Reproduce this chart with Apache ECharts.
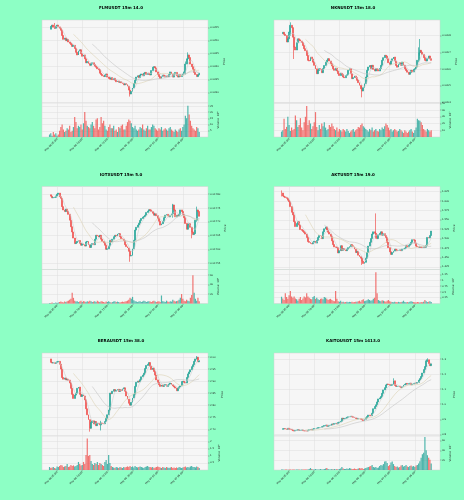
<!DOCTYPE html>
<html>
<head>
<meta charset="utf-8">
<script src="https://cdn.jsdelivr.net/npm/echarts@6/dist/echarts.min.js"></script>
<style>
  html, body { margin: 0; padding: 0; background: #8dffc5; }
  #main { width: 464px; height: 500px; }
</style>
</head>
<body>
<div id="main"></div>
<script>
// x axis: 120 candles of 15m, labelled every 20 candles
const tickIndex = [6, 26, 46, 66, 86, 106]
const dateTicks = ['May 06 05:00', 'May 06 10:00', 'May 06 15:00', 'May 06 20:00', 'May 07 01:00', 'May 07 06:00']
const maPeriods = [5, 20, 35]

const titles = ['FLMUSDT 15m 14.0', 'NKNUSDT 15m 18.0', 'IOTXUSDT 15m 5.0', 'AKTUSDT 15m 19.0', 'BERAUSDT 15m 38.0', 'KAITOUSDT 15m 1413.0']

const flmClose = [
  0.03544, 0.03555, 0.03560, 0.03552, 0.03548, 0.03556, 0.03560, 0.03553, 0.03548, 0.03540,
  0.03520, 0.03505, 0.03510, 0.03500, 0.03505, 0.03495, 0.03490, 0.03485, 0.03478, 0.03482,
  0.03470, 0.03455, 0.03445, 0.03460, 0.03465, 0.03450, 0.03440, 0.03445, 0.03430, 0.03415,
  0.03420, 0.03412, 0.03405, 0.03410, 0.03415, 0.03408, 0.03402, 0.03398, 0.03392, 0.03388,
  0.03375, 0.03370, 0.03365, 0.03362, 0.03368, 0.03372, 0.03360, 0.03355, 0.03352, 0.03358,
  0.03350, 0.03355, 0.03348, 0.03342, 0.03345, 0.03340, 0.03342, 0.03338, 0.03335, 0.03330,
  0.03335, 0.03332, 0.03325, 0.03310, 0.03295, 0.03305, 0.03318, 0.03335, 0.03348, 0.03360,
  0.03365, 0.03358, 0.03368, 0.03372, 0.03365, 0.03375, 0.03378, 0.03370, 0.03375, 0.03372,
  0.03368, 0.03385, 0.03398, 0.03400, 0.03395, 0.03380, 0.03370, 0.03362, 0.03355, 0.03362,
  0.03368, 0.03365, 0.03360, 0.03365, 0.03362, 0.03370, 0.03380, 0.03372, 0.03360, 0.03372,
  0.03378, 0.03365, 0.03360, 0.03370, 0.03362, 0.03368, 0.03372, 0.03380, 0.03410, 0.03430,
  0.03445, 0.03435, 0.03410, 0.03400, 0.03390, 0.03378, 0.03370, 0.03362, 0.03368, 0.03375
]
const flmVol = [
  2, 3, 1, 4, 2, 3, 1, 2, 5, 8,
  10, 6, 4, 5, 7, 6, 9, 4, 5, 8,
  16, 12, 7, 9, 8, 10, 6, 11, 20, 13,
  9, 8, 7, 10, 12, 9, 7, 14, 15, 6,
  8, 16, 11, 13, 9, 6, 5, 8, 10, 7,
  7, 9, 5, 6, 4, 8, 7, 9, 10, 6,
  6, 9, 12, 14, 13, 11, 8, 7, 9, 6,
  5, 6, 8, 7, 10, 6, 5, 7, 9, 6,
  6, 8, 10, 9, 7, 6, 5, 7, 6, 8,
  5, 6, 7, 6, 5, 7, 8, 6, 5, 4,
  6, 5, 4, 6, 7, 5, 8, 10, 17, 15,
  25, 18, 13, 9, 7, 6, 5, 8, 7, 4
]
const flmWicks = [[4, 0.03568, 0.03545], [64, 0.03312, 0.03285], [108, 0.03420, 0.03370], [110, 0.03455, 0.03425]]
const flmPriceTicks = [0.0330, 0.0335, 0.0340, 0.0345, 0.0350, 0.0355]
const flmVolTicks = [5, 10, 15, 20, 25]

const nknClose = [
  0.030812, 0.030820, 0.030808, 0.030801, 0.030762, 0.030781, 0.030822, 0.030862, 0.030848, 0.030791,
  0.030732, 0.030714, 0.030758, 0.030781, 0.030775, 0.030768, 0.030759, 0.030741, 0.030722, 0.030710,
  0.030681, 0.030652, 0.030648, 0.030672, 0.030660, 0.030641, 0.030622, 0.030601, 0.030572, 0.030591,
  0.030603, 0.030598, 0.030578, 0.030602, 0.030621, 0.030641, 0.030652, 0.030662, 0.030648, 0.030632,
  0.030618, 0.030601, 0.030592, 0.030604, 0.030588, 0.030572, 0.030561, 0.030574, 0.030568, 0.030552,
  0.030548, 0.030561, 0.030565, 0.030592, 0.030602, 0.030571, 0.030542, 0.030548, 0.030558, 0.030548,
  0.030532, 0.030518, 0.030502, 0.030482, 0.030468, 0.030488, 0.030512, 0.030552, 0.030592, 0.030612,
  0.030621, 0.030602, 0.030622, 0.030598, 0.030588, 0.030602, 0.030598, 0.030588, 0.030603, 0.030622,
  0.030652, 0.030668, 0.030682, 0.030678, 0.030662, 0.030638, 0.030628, 0.030648, 0.030661, 0.030672,
  0.030648, 0.030621, 0.030611, 0.030628, 0.030638, 0.030622, 0.030642, 0.030622, 0.030601, 0.030591,
  0.030581, 0.030568, 0.030578, 0.030592, 0.030582, 0.030598, 0.030602, 0.030612, 0.030652, 0.030698,
  0.030712, 0.030701, 0.030688, 0.030668, 0.030652, 0.030648, 0.030662, 0.030678, 0.030662, 0.030652
]
const nknVol = [
  8, 10, 27, 12, 15, 30, 18, 9, 14, 10,
  12, 32, 25, 15, 18, 28, 14, 10, 22, 30,
  46, 18, 25, 20, 12, 16, 22, 37, 15, 10,
  18, 12, 20, 16, 22, 14, 10, 12, 18, 15,
  20, 16, 12, 10, 14, 8, 12, 10, 8, 12,
  10, 8, 12, 9, 6, 8, 10, 12, 8, 10,
  12, 15, 14, 18, 20, 16, 14, 12, 10, 8,
  12, 10, 14, 8, 10, 12, 9, 8, 12, 10,
  14, 12, 16, 20, 18, 14, 10, 12, 8, 10,
  12, 10, 8, 9, 12, 10, 8, 6, 10, 8,
  6, 8, 10, 12, 8, 6, 10, 14, 27, 25,
  24, 22, 18, 12, 10, 8, 12, 10, 8, 10
]
const nknWicks = [[7, 0.03088, 0.03080], [10, 0.03078, 0.03066], [64, 0.03050, 0.03043], [109, 0.03073, 0.03064], [110, 0.03078, 0.03068]]
const nknPriceTicks = [0.0304, 0.0305, 0.0306, 0.0307, 0.0308]
const nknVolTicks = [10, 20, 30, 40, 50]

const iotxClose = [
  0.017798, 0.017793, 0.017787, 0.017788, 0.017789, 0.017794, 0.017800, 0.017804, 0.017791, 0.017785,
  0.017755, 0.017743, 0.017737, 0.017746, 0.017739, 0.017727, 0.017706, 0.017682, 0.017663, 0.017641,
  0.017621, 0.017624, 0.017629, 0.017632, 0.017622, 0.017615, 0.017620, 0.017617, 0.017612, 0.017627,
  0.017629, 0.017617, 0.017607, 0.017617, 0.017621, 0.017617, 0.017637, 0.017651, 0.017649, 0.017645,
  0.017651, 0.017637, 0.017629, 0.017624, 0.017615, 0.017600, 0.017602, 0.017612, 0.017632, 0.017627,
  0.017637, 0.017646, 0.017651, 0.017649, 0.017656, 0.017657, 0.017646, 0.017639, 0.017637, 0.017632,
  0.017617, 0.017610, 0.017605, 0.017593, 0.017576, 0.017578, 0.017602, 0.017633, 0.017670, 0.017680,
  0.017688, 0.017695, 0.017705, 0.017712, 0.017717, 0.017719, 0.017724, 0.017734, 0.017739, 0.017744,
  0.017743, 0.017737, 0.017731, 0.017724, 0.017729, 0.017722, 0.017712, 0.017702, 0.017688, 0.017693,
  0.017702, 0.017715, 0.017724, 0.017727, 0.017722, 0.017718, 0.017724, 0.017729, 0.017761, 0.017743,
  0.017718, 0.017724, 0.017722, 0.017727, 0.017743, 0.017737, 0.017727, 0.017715, 0.017694, 0.017673,
  0.017690, 0.017693, 0.017680, 0.017663, 0.017654, 0.017657, 0.017706, 0.017743, 0.017737, 0.017720
]
const iotxVol = [
  1, 1, 2, 1, 1, 2, 1, 2, 3, 4,
  3, 2, 4, 3, 5, 6, 8, 10, 23, 12,
  6, 4, 5, 3, 4, 6, 3, 5, 4, 3,
  5, 4, 6, 5, 3, 4, 5, 3, 6, 4,
  3, 5, 4, 3, 2, 4, 3, 5, 3, 2,
  3, 4, 5, 3, 4, 3, 2, 3, 4, 3,
  4, 5, 6, 8, 12, 10, 14, 7, 5, 4,
  3, 4, 5, 3, 4, 6, 5, 3, 4, 5,
  4, 3, 5, 6, 4, 3, 4, 5, 3, 17,
  5, 4, 3, 6, 4, 3, 5, 4, 8, 6,
  4, 5, 6, 8, 12, 20, 10, 6, 5, 8,
  6, 5, 12, 18, 60, 23, 10, 6, 12, 5
]
const iotxWicks = [[64, 0.017580, 0.017555], [98, 0.017765, 0.017715], [113, 0.017670, 0.017640], [117, 0.017755, 0.017700]]
const iotxPriceTicks = [0.01755, 0.01760, 0.01765, 0.01770, 0.01775, 0.01780]
const iotxVolTicks = [20, 40, 60]

const aktClose = [
  1.621, 1.613, 1.611, 1.609, 1.607, 1.602, 1.598, 1.585, 1.570, 1.563,
  1.545, 1.532, 1.540, 1.545, 1.536, 1.524, 1.522, 1.519, 1.516, 1.512,
  1.503, 1.492, 1.490, 1.487, 1.486, 1.490, 1.493, 1.488, 1.495, 1.503,
  1.508, 1.507, 1.500, 1.518, 1.526, 1.531, 1.523, 1.517, 1.512, 1.506,
  1.494, 1.484, 1.478, 1.477, 1.476, 1.462, 1.468, 1.481, 1.469, 1.473,
  1.470, 1.468, 1.472, 1.476, 1.479, 1.484, 1.481, 1.478, 1.472, 1.463,
  1.466, 1.456, 1.452, 1.448, 1.440, 1.434, 1.437, 1.448, 1.463, 1.480,
  1.490, 1.500, 1.512, 1.518, 1.514, 1.505, 1.500, 1.510, 1.514, 1.518,
  1.509, 1.513, 1.508, 1.503, 1.490, 1.476, 1.465, 1.458, 1.463, 1.467,
  1.472, 1.470, 1.468, 1.469, 1.470, 1.468, 1.472, 1.473, 1.475, 1.481,
  1.478, 1.482, 1.485, 1.490, 1.497, 1.496, 1.488, 1.480, 1.478, 1.477,
  1.478, 1.477, 1.476, 1.478, 1.477, 1.482, 1.503, 1.502, 1.508, 1.520
]
const aktVol = [
  0.29, 0.22, 0.15, 0.44, 0.28, 0.20, 0.35, 0.54, 0.30, 0.25,
  0.30, 0.22, 0.18, 0.12, 0.20, 0.28, 0.15, 0.22, 0.30, 0.26,
  0.44, 0.30, 0.25, 0.20, 0.18, 0.28, 0.32, 0.20, 0.25, 0.18,
  0.15, 0.20, 0.22, 0.18, 0.28, 0.25, 0.20, 0.15, 0.18, 0.20,
  0.15, 0.12, 0.10, 0.54, 0.20, 0.10, 0.08, 0.12, 0.06, 0.08,
  0.05, 0.06, 0.08, 0.05, 0.07, 0.06, 0.08, 0.05, 0.06, 0.08,
  0.07, 0.10, 0.12, 0.08, 0.15, 0.18, 0.10, 0.12, 0.14, 0.18,
  0.15, 0.12, 0.14, 0.20, 0.25, 1.34, 0.44, 0.15, 0.12, 0.10,
  0.14, 0.12, 0.10, 0.08, 0.12, 0.15, 0.10, 0.08, 0.06, 0.05,
  0.08, 0.06, 0.05, 0.07, 0.05, 0.06, 0.08, 0.12, 0.06, 0.05,
  0.06, 0.05, 0.08, 0.10, 0.07, 0.06, 0.05, 0.04, 0.06, 0.05,
  0.04, 0.06, 0.05, 0.08, 0.15, 0.10, 0.06, 0.08, 0.10, 0.06
]
const aktWicks = [[0, 1.628, 1.612], [64, 1.445, 1.430], [75, 1.567, 1.500]]
const aktPriceTicks = [1.425, 1.450, 1.475, 1.500, 1.525, 1.550, 1.575, 1.600, 1.625]
const aktVolTicks = [0.25, 0.50, 0.75, 1.00, 1.25]

const beraClose = [
  2.992, 2.978, 2.975, 2.976, 2.974, 2.977, 2.980, 2.982, 2.970, 2.950,
  2.915, 2.908, 2.913, 2.905, 2.908, 2.904, 2.892, 2.870, 2.845, 2.828,
  2.842, 2.850, 2.870, 2.875, 2.845, 2.836, 2.843, 2.838, 2.822, 2.785,
  2.760, 2.740, 2.704, 2.728, 2.735, 2.722, 2.732, 2.715, 2.725, 2.722,
  2.718, 2.726, 2.724, 2.723, 2.732, 2.745, 2.760, 2.780, 2.850, 2.848,
  2.858, 2.865, 2.858, 2.862, 2.866, 2.857, 2.864, 2.860, 2.868, 2.872,
  2.858, 2.838, 2.825, 2.808, 2.800, 2.812, 2.830, 2.845, 2.878, 2.895,
  2.900, 2.897, 2.906, 2.918, 2.925, 2.933, 2.952, 2.965, 2.970, 2.977,
  2.962, 2.948, 2.954, 2.940, 2.925, 2.905, 2.895, 2.885, 2.878, 2.884,
  2.878, 2.883, 2.886, 2.878, 2.884, 2.888, 2.892, 2.885, 2.880, 2.876,
  2.871, 2.860, 2.870, 2.876, 2.880, 2.898, 2.899, 2.895, 2.892, 2.915,
  2.930, 2.938, 2.947, 2.960, 2.968, 2.982, 2.992, 2.999, 2.980, 2.985
]
const beraVol = [
  0.21, 0.14, 0.18, 0.21, 0.14, 0.10, 0.25, 0.21, 0.28, 0.35,
  0.32, 0.21, 0.25, 0.28, 0.42, 0.21, 0.25, 0.35, 0.28, 0.32,
  0.25, 0.28, 0.35, 0.56, 0.42, 0.32, 0.35, 0.56, 0.42, 1.05,
  2.20, 0.98, 1.05, 0.63, 0.42, 0.35, 0.49, 0.42, 0.56, 0.35,
  0.49, 0.42, 0.35, 0.28, 0.56, 0.70, 0.42, 1.05, 0.49, 0.28,
  0.21, 0.18, 0.14, 0.21, 0.18, 0.14, 0.21, 0.18, 0.14, 0.21,
  0.18, 0.21, 0.25, 0.21, 0.28, 0.21, 0.25, 0.18, 0.28, 0.21,
  0.18, 0.21, 0.25, 0.21, 0.18, 0.14, 0.21, 0.25, 0.28, 0.21,
  0.21, 0.18, 0.21, 0.14, 0.18, 0.21, 0.25, 0.21, 0.18, 0.14,
  0.21, 0.18, 0.14, 0.21, 0.18, 0.14, 0.18, 0.21, 0.14, 0.18,
  0.14, 0.18, 0.14, 0.21, 0.18, 0.14, 0.18, 0.21, 0.25, 0.18,
  0.21, 0.18, 0.25, 0.28, 0.21, 0.21, 0.18, 0.25, 0.21, 0.14
]
const beraWicks = [[32, 2.735, 2.690], [41, 2.735, 2.695], [117, 3.004, 2.990]]
const beraPriceTicks = [2.70, 2.75, 2.80, 2.85, 2.90, 2.95, 3.00]
const beraVolTicks = [0.5, 1.0, 1.5, 2.0]

const kaitoClose = [
  0.8333, 0.8378, 0.8378, 0.8356, 0.8333, 0.8400, 0.8356, 0.8333, 0.8289, 0.8244,
  0.8222, 0.8267, 0.8289, 0.8300, 0.8260, 0.8270, 0.8290, 0.8250, 0.8240, 0.8225,
  0.8222, 0.8280, 0.8300, 0.8340, 0.8290, 0.8350, 0.8380, 0.8390, 0.8410, 0.8440,
  0.8450, 0.8470, 0.8510, 0.8540, 0.8580, 0.8620, 0.8530, 0.8550, 0.8600, 0.8620,
  0.8690, 0.8650, 0.8720, 0.8730, 0.8690, 0.8780, 0.8820, 0.8870, 0.9070, 0.9020,
  0.9060, 0.9080, 0.9130, 0.9160, 0.9180, 0.9200, 0.9170, 0.9130, 0.9090, 0.9060,
  0.9020, 0.9050, 0.9040, 0.9000, 0.8960, 0.8920, 0.9000, 0.9100, 0.9180, 0.9280,
  0.9250, 0.9240, 0.9400, 0.9700, 0.9850, 0.9960, 1.0150, 1.0350, 1.0420, 1.0510,
  1.0720, 1.0950, 1.1100, 1.1280, 1.1340, 1.1310, 1.1240, 1.1260, 1.1320, 1.1550,
  1.1250, 1.1180, 1.1180, 1.1200, 1.1150, 1.1120, 1.1160, 1.1280, 1.1320, 1.1380,
  1.1330, 1.1370, 1.1400, 1.1290, 1.1340, 1.1380, 1.1400, 1.1390, 1.1440, 1.1600,
  1.1700, 1.1840, 1.2070, 1.2300, 1.2500, 1.2850, 1.2950, 1.2700, 1.2560, 1.2680
]
const kaitoVol = [
  1, 1, 0.5, 1, 1, 0.5, 1, 1, 0.5, 1,
  1, 0.5, 1, 1, 1, 0.5, 1, 1, 1, 1,
  1, 1, 2, 4, 2, 1, 1, 2, 1, 1,
  1, 2, 1, 1, 2, 3, 4, 2, 1, 1,
  2, 1, 2, 1, 2, 1, 2, 3, 6, 3,
  2, 2, 3, 2, 4, 3, 2, 2, 3, 2,
  2, 3, 4, 3, 4, 2, 3, 4, 5, 6,
  7, 8, 10, 6, 5, 6, 4, 5, 8, 10,
  9, 12, 17, 18, 14, 8, 10, 15, 17, 12,
  8, 6, 7, 5, 6, 9, 10, 7, 8, 10,
  7, 6, 8, 9, 7, 8, 6, 9, 10, 13,
  18, 25, 32, 35, 67, 40, 30, 25, 21, 13
]
const kaitoWicks = [[89, 1.172, 1.128], [115, 1.290, 1.245], [116, 1.305, 1.280]]
const kaitoPriceTicks = [0.8, 0.9, 1.0, 1.1, 1.2, 1.3]
const kaitoVolTicks = [20, 40, 60]

// panel table built from the arrays above
const panels = [
  { title: titles[0], close: flmClose, vol: flmVol, wicks: flmWicks, pTicks: flmPriceTicks, pMin: 0.032603, pMax: 0.035795, dec: 4, vTicks: flmVolTicks, vMax: 27.3, vName: 'Volume  10⁶' },
  { title: titles[1], close: nknClose, vol: nknVol, wicks: nknWicks, pTicks: nknPriceTicks, pMin: 0.030396, pMax: 0.030894, dec: 4, vTicks: nknVolTicks, vMax: 50.5, vName: 'Volume  10⁵' },
  { title: titles[2], close: iotxClose, vol: iotxVol, wicks: iotxWicks, pTicks: iotxPriceTicks, pMin: 0.017527, pMax: 0.017828, dec: 5, vTicks: iotxVolTicks, vMax: 72, vName: 'Volume  10⁶' },
  { title: titles[3], close: aktClose, vol: aktVol, wicks: aktWicks, pTicks: aktPriceTicks, pMin: 1.4179, pMax: 1.6384, dec: 3, vTicks: aktVolTicks, vMax: 1.46, vName: 'Volume  10⁷' },
  { title: titles[4], close: beraClose, vol: beraVol, wicks: beraWicks, pTicks: beraPriceTicks, pMin: 2.672, pMax: 3.0167, dec: 2, vTicks: beraVolTicks, vMax: 2.37, vName: 'Volume  10⁶' },
  { title: titles[5], close: kaitoClose, vol: kaitoVol, wicks: kaitoWicks, pTicks: kaitoPriceTicks, pMin: 0.789, pMax: 1.34, dec: 1, vTicks: kaitoVolTicks, vMax: 69, vName: 'Volume  10⁵' }
]

const UP = '#26a69a'
const DOWN = '#ef5350'
const MA_COLORS = ['#cfcfcf', '#dcd2b4', '#c4c4c4']
const PLOT_BG = '#f6f6f6'
const GRID_LINE = '#dedede'
const FONT = 'DejaVu Sans'
const PAD_L = 6
const PAD_R = 7

function padded(arr) {
  return Array(PAD_L).fill('-').concat(arr, Array(PAD_R).fill('-'))
}

function movingAverage(vals, n) {
  return vals.map((v, i) => {
    if (i < n - 1) return '-'
    let s = 0
    for (let k = i - n + 1; k <= i; k++) s += vals[k]
    return s / n
  })
}

const nCats = PAD_L + 120 + PAD_R
const cats = []
for (let i = 0; i < nCats; i++) cats.push('c' + i)
const isTick = idx => tickIndex.indexOf(idx - PAD_L) >= 0

const option = {
  backgroundColor: '#8dffc5',
  animation: false,
  textStyle: { fontFamily: FONT },
  title: [],
  grid: [],
  xAxis: [],
  yAxis: [],
  series: []
}

panels.forEach((p, k) => {
  const col = k % 2
  const row = Math.floor(k / 2)
  const left = 42 + 232 * col
  const top = 20 + 166.5 * row

  option.title.push({
    text: p.title,
    left: 116 + 232 * col,
    top: [1.3, 167.8, 333.8][row],
    textAlign: 'center',
    textStyle: { fontSize: 4, fontWeight: 'bold', color: '#000', fontFamily: FONT }
  })

  const gi = option.grid.length
  option.grid.push({ left: left, top: top, width: 166, height: 83, show: true, backgroundColor: PLOT_BG, borderColor: '#d0d0d0', borderWidth: 0.5 })
  option.grid.push({ left: left, top: top + 83, width: 166, height: 34, show: true, backgroundColor: PLOT_BG, borderColor: '#d0d0d0', borderWidth: 0.5 })

  const xBase = {
    type: 'category', data: cats, boundaryGap: false,
    axisLine: { show: false },
    axisTick: { show: false },
    axisLabel: { show: false },
    splitLine: { show: true, interval: isTick, lineStyle: { color: GRID_LINE, width: 0.5 } }
  }
  option.xAxis.push(Object.assign({ gridIndex: gi }, xBase))
  option.xAxis.push(Object.assign({ gridIndex: gi + 1 }, xBase, {
    axisTick: { show: true, interval: isTick, length: 1.5, lineStyle: { color: '#555', width: 0.4 } },
    axisLabel: {
      show: true, interval: isTick, rotate: 45, fontSize: 2.5, margin: 2, color: '#222', fontFamily: FONT,
      formatter: (v, idx) => {
        const t = tickIndex.indexOf(idx - PAD_L)
        return t >= 0 ? dateTicks[t] : ''
      }
    }
  }))

  const yBase = {
    type: 'value', position: 'right', scale: true,
    axisLine: { show: false },
    nameLocation: 'middle', nameRotate: 90,
    nameTextStyle: { fontSize: 2.8, color: '#222', fontFamily: FONT },
    splitLine: { show: true, lineStyle: { color: GRID_LINE, width: 0.5 } }
  }
  option.yAxis.push(Object.assign({}, yBase, {
    gridIndex: gi, min: p.pMin, max: p.pMax, name: 'Price', nameGap: 13,
    axisTick: { show: true, length: 1.5, customValues: p.pTicks, lineStyle: { color: '#555', width: 0.4 } },
    axisLabel: { customValues: p.pTicks, fontSize: 2.5, margin: 2, color: '#222', fontFamily: FONT, formatter: v => v.toFixed(p.dec) }
  }))
  option.yAxis.push(Object.assign({}, yBase, {
    gridIndex: gi + 1, min: 0, max: p.vMax, name: p.vName, nameGap: 8.5,
    axisTick: { show: true, length: 1.5, customValues: p.vTicks, lineStyle: { color: '#555', width: 0.4 } },
    axisLabel: { customValues: p.vTicks, fontSize: 2.5, margin: 2, color: '#222', fontFamily: FONT, formatter: v => String(v) }
  }))

  // candles: open is the previous close
  const candles = []
  const bars = []
  p.close.forEach((c, i) => {
    const o = i > 0 ? p.close[i - 1] : c
    let hi = Math.max(o, c)
    let lo = Math.min(o, c)
    p.wicks.forEach(w => { if (w[0] === i) { hi = Math.max(hi, w[1]); lo = Math.min(lo, w[2]) } })
    candles.push([o, c, lo, hi])
    bars.push({ value: p.vol[i], itemStyle: { color: c >= o ? UP : DOWN, opacity: 0.8 } })
  })

  option.series.push({
    type: 'candlestick', xAxisIndex: gi, yAxisIndex: gi,
    data: padded(candles), barWidth: 1.4, barMinWidth: 1.4,
    itemStyle: { color: UP, color0: DOWN, borderColor: UP, borderColor0: DOWN, borderWidth: 0.7 }
  })
  maPeriods.forEach((n, j) => {
    option.series.push({
      type: 'line', xAxisIndex: gi, yAxisIndex: gi,
      data: padded(movingAverage(p.close, n)), showSymbol: false, silent: true,
      lineStyle: { color: MA_COLORS[j], width: 0.6 }
    })
  })
  option.series.push({
    type: 'bar', xAxisIndex: gi + 1, yAxisIndex: gi + 1,
    data: padded(bars), barWidth: 1.2
  })
})

const myChart = echarts.init(document.getElementById('main'), null, { renderer: 'canvas' })
myChart.setOption(option)
</script>
</body>
</html>
